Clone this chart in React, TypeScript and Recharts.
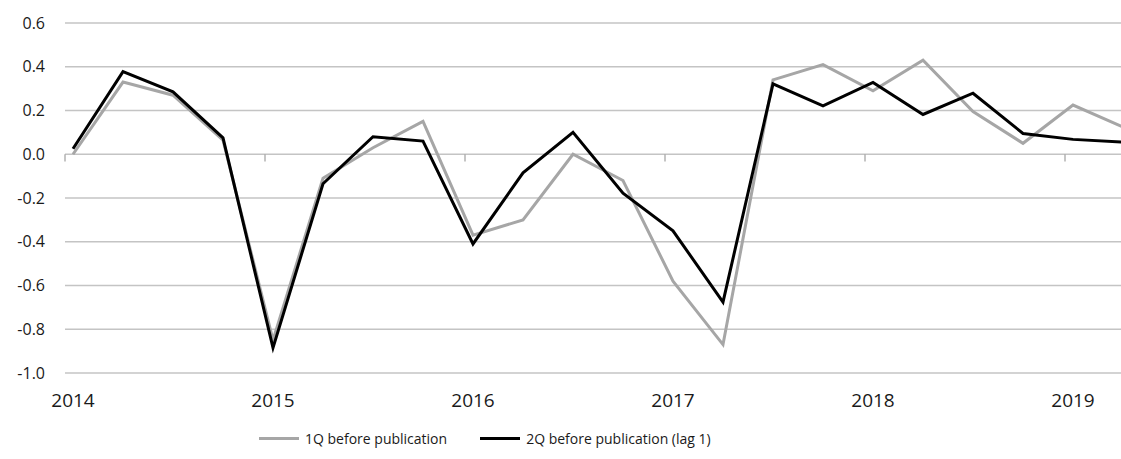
import React from "react";
import {
  CartesianGrid,
  Legend,
  Line,
  LineChart,
  ReferenceLine,
  XAxis,
  YAxis,
} from "recharts";

const quarters = [
  "2014 Q1", "2014 Q2", "2014 Q3", "2014 Q4",
  "2015 Q1", "2015 Q2", "2015 Q3", "2015 Q4",
  "2016 Q1", "2016 Q2", "2016 Q3", "2016 Q4",
  "2017 Q1", "2017 Q2", "2017 Q3", "2017 Q4",
  "2018 Q1", "2018 Q2", "2018 Q3", "2018 Q4",
  "2019 Q1", "2019 Q2",
];

// 1Q before publication (grey)
const oneQ = [
  0.0, 0.33, 0.27, 0.065,
  -0.85, -0.11, 0.03, 0.15,
  -0.37, -0.3, 0.0, -0.12,
  -0.58, -0.87, 0.34, 0.41,
  0.29, 0.43, 0.195, 0.05,
  0.225, 0.125,
];

// 2Q before publication, lag 1 (black)
const twoQ = [
  0.025, 0.378, 0.285, 0.075,
  -0.885, -0.135, 0.08, 0.06,
  -0.41, -0.085, 0.1, -0.178,
  -0.35, -0.676, 0.322, 0.221,
  0.328, 0.182, 0.279, 0.095,
  0.068, 0.056,
];

const yearTicks = [0, 4, 8, 12, 16, 20];
const yearLabels = ["2014", "2015", "2016", "2017", "2018", "2019"];
const yTicks = [-1.0, -0.8, -0.6, -0.4, -0.2, 0.0, 0.2, 0.4, 0.6];

const data = quarters.map((q, i) => ({
  i,
  quarter: q,
  oneQ: oneQ[i],
  twoQ: twoQ[i],
}));

const FONT = "'Open Sans', sans-serif";

function LegendContent(props: any) {
  const { payload } = props;
  return (
    <div style={{ display: "flex", alignItems: "center", fontFamily: FONT, fontSize: 14, color: "#1a1a1a" }}>
      {(payload || []).map((entry: any, idx: number) => (
        <div key={idx} style={{ display: "flex", alignItems: "center", marginRight: idx === 0 ? 33 : 0 }}>
          <span style={{ display: "inline-block", width: 40, height: 3, background: entry.color, marginRight: 6 }} />
          <span>{entry.value}</span>
        </div>
      ))}
    </div>
  );
}

export default function App() {
  return (
    <div style={{ position: "absolute", left: 0, top: 0 }}>
      <LineChart
        width={1121}
        height={459}
        data={data}
        margin={{ top: 23, right: 0, bottom: 56, left: 0 }}
      >
        <CartesianGrid vertical={false} stroke="#c4c4c4" strokeWidth={1.3} />
        <XAxis
          dataKey="i"
          type="number"
          domain={[-0.16, 20.96]}
          allowDataOverflow
          ticks={yearTicks}
          tickFormatter={(v: number) => yearLabels[yearTicks.indexOf(v)] ?? ""}
          axisLine={false}
          tickLine={false}
          tickSize={0}
          tickMargin={21}
          height={30}
          tick={{ fill: "#1a1a1a", fontSize: 19, fontFamily: FONT }}
        />
        <YAxis
          domain={[-1, 0.6]}
          ticks={yTicks}
          tickFormatter={(v: number) => v.toFixed(1)}
          axisLine={false}
          tickLine={false}
          tickSize={0}
          tickMargin={20}
          width={65}
          tick={{ fill: "#1a1a1a", fontSize: 16, fontFamily: FONT }}
        />
        {yearTicks.map((t) => (
          <ReferenceLine
            key={t}
            segment={[
              { x: t - 0.16, y: 0 },
              { x: t - 0.16, y: -0.033 },
            ]}
            stroke="#a6a6a6"
            strokeWidth={1.3}
            ifOverflow="visible"
          />
        ))}
        <Line
          type="linear"
          dataKey="oneQ"
          name="1Q before publication"
          stroke="#a6a6a6"
          strokeWidth={3}
          dot={false}
          isAnimationActive={false}
        />
        <Line
          type="linear"
          dataKey="twoQ"
          name="2Q before publication (lag 1)"
          stroke="#000000"
          strokeWidth={3}
          dot={false}
          isAnimationActive={false}
        />
        <Legend
          layout="horizontal"
          verticalAlign="middle"
          content={<LegendContent />}
          wrapperStyle={{ left: 259, top: 429, width: "auto" }}
        />
      </LineChart>
    </div>
  );
}
